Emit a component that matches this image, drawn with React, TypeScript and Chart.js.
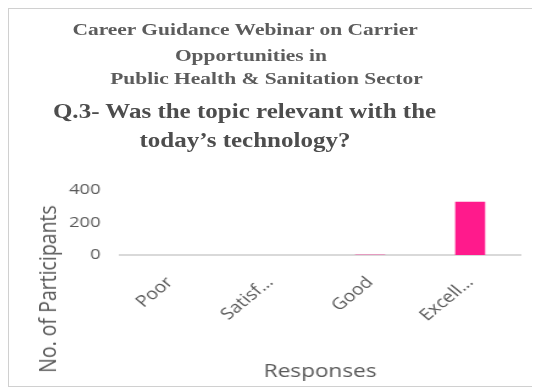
import React, { useEffect, useLayoutEffect, useRef } from "react";
import { Chart, registerables } from "chart.js";

Chart.register(...registerables);

// ---- data ----
const titleLines = [
  "Career Guidance Webinar on Carrier",
  "Opportunities in",
  "Public Health & Sanitation Sector",
];
const questionLines = ["Q.3- Was the topic relevant with the", "today\u2019s technology?"];
const categories = ["Poor", "Satisfactory", "Good", "Excellent"];
const tickLabels = ["Poor", "Satisf\u2026", "Good", "Excell\u2026"];
const participants = [0, 0, 2, 327];
const yTickValues = [0, 200, 400];
const xAxisTitle = "Responses";
const yAxisTitle = "No. of Participants";

// ---- layout ----
const SX = 1.22; // horizontal stretch of the reference picture
const INNER_W = 436;
const H = 377;
const GRAY = "#595959";

const titleLayout = [
  { left: 52, top: 12, size: 17.6, color: "#5c5c5c" },
  { left: 136, top: 38, size: 17.6, color: "#5c5c5c" },
  { left: 83, top: 61, size: 17.6, color: "#5c5c5c" },
];
const questionLayout = [
  { left: 36, top: 92, size: 20.5, color: "#4d4d4d" },
  { left: 107, top: 121, size: 20.5, color: "#4d4d4d" },
];

export default function App() {
  const ref = useRef<HTMLCanvasElement>(null);

  useLayoutEffect(() => {
    document.documentElement.style.overflow = "hidden";
  }, []);

  useEffect(() => {
    const chart = new Chart(ref.current as HTMLCanvasElement, {
      type: "bar",
      data: {
        labels: categories,
        datasets: [
          {
            data: participants,
            backgroundColor: "#ff1a8c",
            barPercentage: 0.3,
            categoryPercentage: 1,
          },
        ],
      },
      options: {
        animation: false,
        responsive: false,
        devicePixelRatio: 1,
        layout: { padding: { top: 181, right: 17, left: 0, bottom: 0 } },
        plugins: {
          legend: { display: false },
          tooltip: { enabled: false },
          title: { display: false },
        },
        scales: {
          x: {
            grid: { display: false, drawTicks: false },
            border: { display: true, color: "#d9d9d9", width: 2 },
            ticks: {
              autoSkip: false,
              minRotation: 45,
              maxRotation: 45,
              padding: 18,
              color: GRAY,
              font: { family: "'Open Sans'", size: 16 },
              callback: (_v: any, i: number) => tickLabels[i],
            },
            title: {
              display: true,
              text: xAxisTitle,
              color: GRAY,
              font: { family: "'Open Sans'", size: 18.5 },
              padding: { top: 0, bottom: 3 },
            },
            afterFit: (s: any) => {
              s.height = 131;
            },
          },
          y: {
            min: 0,
            max: 400,
            grid: { display: false, drawTicks: false },
            border: { display: false },
            ticks: {
              padding: 16,
              color: GRAY,
              font: { family: "'Open Sans'", size: 15 },
            },
            afterBuildTicks: (s: any) => {
              s.ticks = yTickValues.map((v) => ({ value: v }));
            },
            afterFit: (s: any) => {
              s.width = 91;
            },
          },
        },
      } as any,
    });
    return () => chart.destroy();
  }, []);

  const textBase: React.CSSProperties = {
    position: "absolute",
    whiteSpace: "nowrap",
    fontFamily: "'Liberation Serif', 'Times New Roman', serif",
    fontWeight: "bold",
    lineHeight: 1,
  };

  return (
    <div
      style={{
        position: "relative",
        width: 531,
        height: H,
        borderLeft: "1px solid #d0d0d0",
        borderTop: "1px solid #d0d0d0",
        borderBottom: "1px solid #d0d0d0",
        overflow: "hidden",
        background: "#fff",
      }}
    >
      <div
        style={{
          position: "absolute",
          left: 0,
          top: 0,
          width: INNER_W,
          height: H,
          transform: `scaleX(${SX})`,
          transformOrigin: "0 0",
        }}
      >
        <canvas
          ref={ref}
          width={INNER_W}
          height={H}
          style={{ position: "absolute", left: 0, top: 0, width: INNER_W, height: H }}
        />
        {titleLines.map((t, i) => (
          <div
            key={"t" + i}
            style={{
              ...textBase,
              left: titleLayout[i].left,
              top: titleLayout[i].top,
              fontSize: titleLayout[i].size,
              color: titleLayout[i].color,
            }}
          >
            {t}
          </div>
        ))}
        {questionLines.map((t, i) => (
          <div
            key={"q" + i}
            style={{
              ...textBase,
              left: questionLayout[i].left,
              top: questionLayout[i].top,
              fontSize: questionLayout[i].size,
              color: questionLayout[i].color,
            }}
          >
            {t}
          </div>
        ))}
        <div
          style={{
            position: "absolute",
            left: 31,
            top: 280,
            transform: "translate(-50%, -50%) rotate(-90deg)",
            whiteSpace: "nowrap",
            fontFamily: "'Open Sans', sans-serif",
            fontSize: 19.5,
            lineHeight: 1,
            color: GRAY,
          }}
        >
          {yAxisTitle}
        </div>
      </div>
    </div>
  );
}
